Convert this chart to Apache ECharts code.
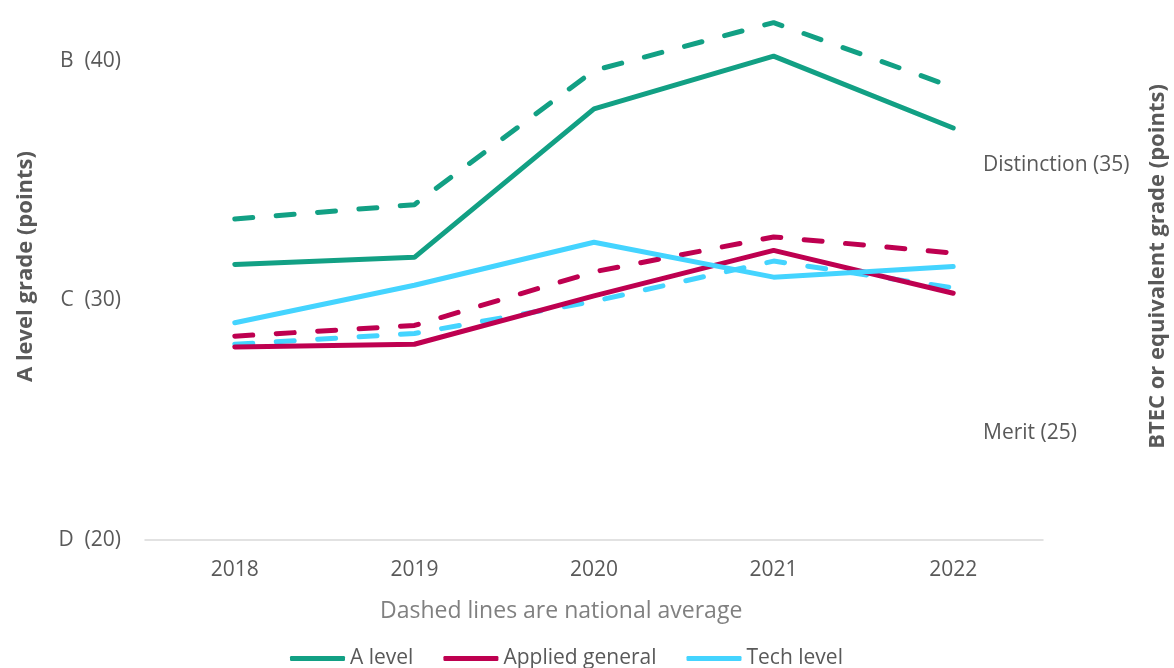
<!DOCTYPE html>
<html>
<head>
<meta charset="utf-8">
<title>A level and BTEC grades</title>
<script src="https://cdn.jsdelivr.net/npm/echarts@6/dist/echarts.min.js"></script>
<style>
  html, body { margin: 0; padding: 0; background: #ffffff; }
  #chart { width: 1174px; height: 668px; }
</style>
</head>
<body>
<div id="chart"></div>
<script>
// categories
const years = ["2018", "2019", "2020", "2021", "2022"];

// A level average point score (left axis)
const aLevel = [31.5, 31.8, 38.0, 40.2, 37.2];
const aLevelNational = [33.4, 34.0, 39.6, 41.6, 38.9];

// BTEC / equivalent average point score (right axis)
const appliedGeneral = [28.2, 28.3, 30.1, 31.8, 30.2];
const appliedGeneralNational = [28.6, 29.0, 31.0, 32.3, 31.7];
const techLevel = [29.1, 30.5, 32.1, 30.8, 31.2];
const techLevelNational = [28.3, 28.7, 29.9, 31.4, 30.4];

// tick labels
const leftTicks = { 20: "D  (20)", 30: "C  (30)", 40: "B  (40)" };
const rightTicks = { 25: "Merit (25)", 35: "Distinction (35)" };

const FONT = "Open Sans";
const teal = "#12a084";
const crimson = "#be0050";
const sky = "#44d4ff";
const dash = [18, 23.5];

const chart = echarts.init(document.getElementById("chart"));

const solid = (name, data, color, axis) => ({
  name: name,
  type: "line",
  yAxisIndex: axis,
  data: data,
  symbol: "none",
  color: color,
  lineStyle: { width: 5, color: color, cap: "round" },
});
const dashed = (name, data, color, axis) => ({
  name: name,
  type: "line",
  yAxisIndex: axis,
  data: data,
  symbol: "none",
  color: color,
  lineStyle: { width: 5, color: color, type: dash, cap: "round" },
});

const option = {
  animation: false,
  textStyle: { fontFamily: FONT },
  title: {
    text: "Dashed lines are national average",
    left: 375,
    top: 595,
    textStyle: { fontFamily: FONT, fontSize: 23, fontWeight: "normal", color: "#808080" },
  },
  legend: {
    data: ["A level", "Applied general", "Tech level"],
    left: 285,
    top: 643,
    icon: "roundRect",
    itemWidth: 55,
    itemHeight: 5,
    itemGap: 30,
    textStyle: { fontFamily: FONT, fontSize: 21, color: "#595959" },
  },
  grid: { left: 145, right: 131, top: 13, bottom: 128, outerBoundsMode: "none" },
  xAxis: {
    type: "category",
    data: years,
    boundaryGap: true,
    axisLine: { lineStyle: { color: "#d9d9d9", width: 1.5 } },
    axisTick: { length: 7, lineStyle: { color: "#d9d9d9", width: 1.5 } },
    axisLabel: { margin: 20, fontFamily: FONT, fontSize: 21, color: "#595959" },
  },
  yAxis: [
    {
      type: "value",
      min: 20,
      max: 42,
      interval: 10,
      name: "A level grade (points)",
      nameLocation: "middle",
      nameGap: 108,
      nameMoveOverlap: false,
      nameTextStyle: { fontFamily: FONT, fontSize: 22, fontWeight: "bold", color: "#595959", padding: [0, 0, 0, 20] },
      axisLine: { show: false },
      axisTick: { show: false },
      splitLine: { show: false },
      axisLabel: {
        margin: 24,
        fontFamily: FONT,
        fontSize: 21,
        color: "#595959",
        formatter: (v) => leftTicks[v] || "",
      },
    },
    {
      type: "value",
      position: "right",
      min: 21,
      max: 40.65,
      interval: 1,
      name: "BTEC or equivalent grade (points)",
      nameLocation: "middle",
      nameRotate: 90,
      nameGap: 104,
      nameMoveOverlap: false,
      nameTextStyle: { fontFamily: FONT, fontSize: 22, fontWeight: "bold", color: "#595959", padding: [0, 0, 0, 20] },
      axisLine: { show: false },
      axisTick: { show: false },
      splitLine: { show: false },
      axisLabel: {
        margin: -60,
        align: "left",
        fontFamily: FONT,
        fontSize: 21,
        color: "#595959",
        formatter: (v) => rightTicks[v] || "",
      },
    },
  ],
  series: [
    dashed("A level national", aLevelNational, teal, 0),
    dashed("Applied general national", appliedGeneralNational, crimson, 1),
    dashed("Tech level national", techLevelNational, sky, 1),
    solid("A level", aLevel, teal, 0),
    solid("Applied general", appliedGeneral, crimson, 1),
    solid("Tech level", techLevel, sky, 1),
  ],
};

chart.setOption(option);
</script>
</body>
</html>
